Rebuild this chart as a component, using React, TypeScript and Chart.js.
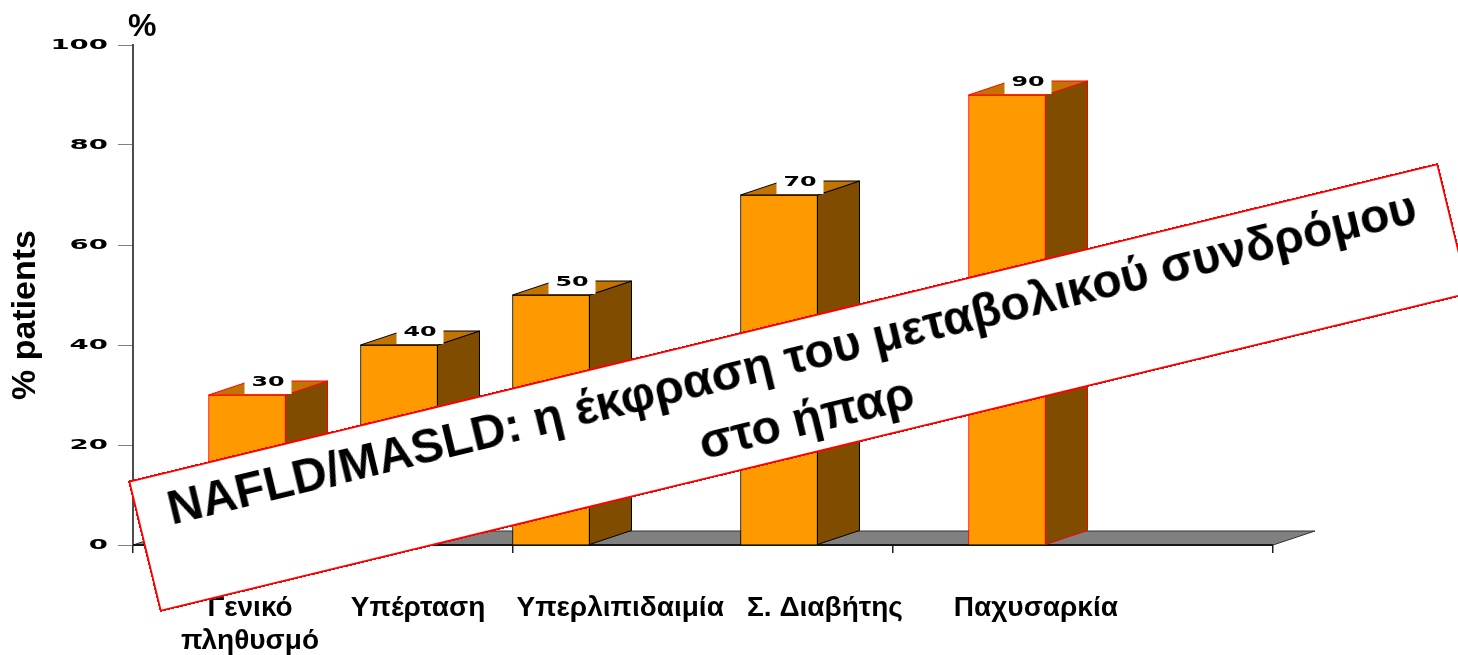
import { useEffect, useRef } from 'react';
import { Chart, registerables } from 'chart.js';

Chart.register(...registerables);

// ---- data ----
const categoryLabels: (string | string[])[] = [['Γενικό', 'πληθυσμό'], 'Υπέρταση', 'Υπερλιπιδαιμία', 'Σ. Διαβήτης', 'Παχυσαρκία'];
const barSlots = [3, 7, 11, 17, 23];
const labelSlots = [3.08, 7.5, 12.82, 18.21, 23.76];
const values = [30, 40, 50, 70, 90];
const barBorders = ['#FF0000', '#000000', '#000000', '#000000', '#FF0000'];
const yTicks = [0, 20, 40, 60, 80, 100];
const xTicks = [0, 10, 20, 30];
const yAxisTitle = '% patients';
const unitLabel = '%';
const bannerLines = ['NAFLD/MASLD: η έκφραση του μεταβολικού συνδρόμου', 'στο ήπαρ'];

// ---- styles ----
const FRONT = '#FF9900';
const TOP = '#C27400';
const SIDE = '#7F4C00';
const FLOOR = '#808080';
const DX = 42;
const DY = -14;
const SANS = '"Liberation Sans", Arial, sans-serif';
const WIDE = '"DejaVu Sans", sans-serif';

const threeD = {
  id: 'threeD',
  beforeDatasetsDraw(chart: any) {
    const { ctx, chartArea } = chart;
    const { left, right, bottom } = chartArea;
    ctx.save();
    ctx.beginPath();
    ctx.moveTo(left, bottom);
    ctx.lineTo(right, bottom);
    ctx.lineTo(right + DX, bottom + DY);
    ctx.lineTo(left + DX, bottom + DY);
    ctx.closePath();
    ctx.fillStyle = FLOOR;
    ctx.fill();
    ctx.strokeStyle = '#333333';
    ctx.lineWidth = 1;
    ctx.stroke();
    ctx.beginPath();
    ctx.moveTo(left, bottom);
    ctx.lineTo(right, bottom);
    ctx.strokeStyle = '#000000';
    ctx.lineWidth = 1.5;
    ctx.stroke();
    ctx.restore();
  },
  afterDatasetsDraw(chart: any) {
    const { ctx } = chart;
    const meta = chart.getDatasetMeta(0);
    ctx.save();
    meta.data.forEach((bar: any, i: number) => {
      const { x, y, base, width } = bar.getProps(['x', 'y', 'base', 'width'], true);
      const l = x - width / 2;
      const r = x + width / 2;
      ctx.lineWidth = 1;
      ctx.strokeStyle = barBorders[i];
      // side face
      ctx.beginPath();
      ctx.moveTo(r, y);
      ctx.lineTo(r + DX, y + DY);
      ctx.lineTo(r + DX, base + DY);
      ctx.lineTo(r, base);
      ctx.closePath();
      ctx.fillStyle = SIDE;
      ctx.fill();
      ctx.stroke();
      // top face
      ctx.beginPath();
      ctx.moveTo(l, y);
      ctx.lineTo(l + DX, y + DY);
      ctx.lineTo(r + DX, y + DY);
      ctx.lineTo(r, y);
      ctx.closePath();
      ctx.fillStyle = TOP;
      ctx.fill();
      ctx.stroke();
      // value label
      const cx = x + DX / 2;
      const bw = 47;
      const bh = 25;
      ctx.fillStyle = '#FFFFFF';
      ctx.fillRect(cx - bw / 2, y - 1 - bh, bw, bh);
      ctx.save();
      ctx.translate(cx, y - 13);
      ctx.scale(1.7, 1);
      ctx.font = `bold 14px ${WIDE}`;
      ctx.fillStyle = '#000000';
      ctx.textAlign = 'center';
      ctx.textBaseline = 'middle';
      ctx.fillText(String(values[i]), 0, 0);
      ctx.restore();
    });
    // y tick labels (wide bold digits)
    const ys = chart.scales.y;
    ys.ticks.forEach((t: any) => {
      const py = ys.getPixelForValue(t.value);
      ctx.save();
      ctx.translate(108, py);
      ctx.scale(1.97, 1);
      ctx.font = `bold 14px ${WIDE}`;
      ctx.fillStyle = '#000000';
      ctx.textAlign = 'right';
      ctx.textBaseline = 'middle';
      ctx.fillText(String(t.value), 0, 0);
      ctx.restore();
    });
    // unit label
    ctx.font = `bold 32px ${SANS}`;
    ctx.fillStyle = '#000000';
    ctx.textAlign = 'left';
    ctx.textBaseline = 'alphabetic';
    ctx.fillText(unitLabel, 128, 36);
    // axis title
    ctx.save();
    ctx.translate(35, 315);
    ctx.rotate(-Math.PI / 2);
    ctx.font = `bold 34px ${SANS}`;
    ctx.textAlign = 'center';
    ctx.textBaseline = 'alphabetic';
    ctx.fillText(yAxisTitle, 0, 0);
    ctx.restore();
    ctx.restore();
  },
};

export default function App() {
  const ref = useRef<HTMLCanvasElement>(null);
  useEffect(() => {
    const canvas = ref.current;
    if (!canvas) return;
    const chart = new Chart(canvas, {
      type: 'bar',
      data: {
        datasets: [
          {
            data: values.map((v, i) => ({ x: barSlots[i], y: v })),
            backgroundColor: FRONT,
            borderColor: barBorders,
            borderWidth: 1,
            barThickness: 77,
            xAxisID: 'x',
            yAxisID: 'y',
          },
        ],
      },
      options: {
        animation: false,
        responsive: false,
        devicePixelRatio: 1,
        layout: { padding: { left: 0, right: 185, top: 45, bottom: 0 } },
        plugins: { legend: { display: false }, tooltip: { enabled: false }, title: { display: false } },
        scales: {
          x: {
            type: 'linear',
            position: 'bottom',
            weight: 0,
            min: 0,
            max: 30,
            offset: false,
            afterBuildTicks: (s: any) => {
              s.ticks = xTicks.map((v) => ({ value: v }));
            },
            ticks: { display: false },
            grid: { offset: false, drawOnChartArea: false, drawTicks: true, tickLength: 8, color: '#222222', lineWidth: 1.5 },
            border: { display: true, color: '#000000', width: 1.5 },
            afterFit: (s: any) => {
              s.height = 20;
            },
          },
          xLabels: {
            type: 'linear',
            position: 'bottom',
            weight: 1,
            min: 0,
            max: 30,
            offset: false,
            afterBuildTicks: (s: any) => {
              s.ticks = labelSlots.map((v) => ({ value: v }));
            },
            ticks: {
              autoSkip: false,
              maxRotation: 0,
              minRotation: 0,
              padding: 27,
              color: '#000000',
              font: { family: SANS, size: 28, weight: 'bold', lineHeight: 33 / 28 },
              callback: (_v: any, i: number) => categoryLabels[i],
            },
            grid: { display: false, drawTicks: false, offset: false },
            border: { display: false },
            afterFit: (s: any) => {
              s.height = 90;
            },
          },
          y: {
            type: 'linear',
            position: 'left',
            min: 0,
            max: 100,
            afterBuildTicks: (s: any) => {
              s.ticks = yTicks.map((v) => ({ value: v }));
            },
            ticks: { display: false },
            grid: { drawOnChartArea: false, drawTicks: true, tickLength: 15, color: '#808080', lineWidth: 1 },
            border: { display: true, color: '#4D4D4D', width: 2 },
            afterFit: (s: any) => {
              s.width = 133;
            },
          },
        },
      } as any,
      plugins: [threeD],
    });
    return () => chart.destroy();
  }, []);

  return (
    <div style={{ position: 'fixed', left: 0, top: 0, width: 1458, height: 655, overflow: 'hidden', background: '#FFFFFF' }}>
      <canvas ref={ref} width={1458} height={655} style={{ position: 'absolute', left: 0, top: 0, width: 1458, height: 655 }} />
      <div
        style={{
          position: 'absolute',
          left: 124.5,
          top: 319.5,
          width: 1348,
          height: 135,
          boxSizing: 'border-box',
          border: '2px solid #FF0000',
          background: '#FFFFFF',
          transform: 'rotate(-13.64deg)',
          display: 'flex',
          flexDirection: 'column',
          justifyContent: 'center',
          alignItems: 'center',
          fontFamily: SANS,
          fontWeight: 'bold',
          fontSize: 48,
          lineHeight: '62px',
          color: '#000000',
          whiteSpace: 'nowrap',
        }}
      >
        {bannerLines.map((line) => (
          <div key={line}>{line}</div>
        ))}
      </div>
    </div>
  );
}
